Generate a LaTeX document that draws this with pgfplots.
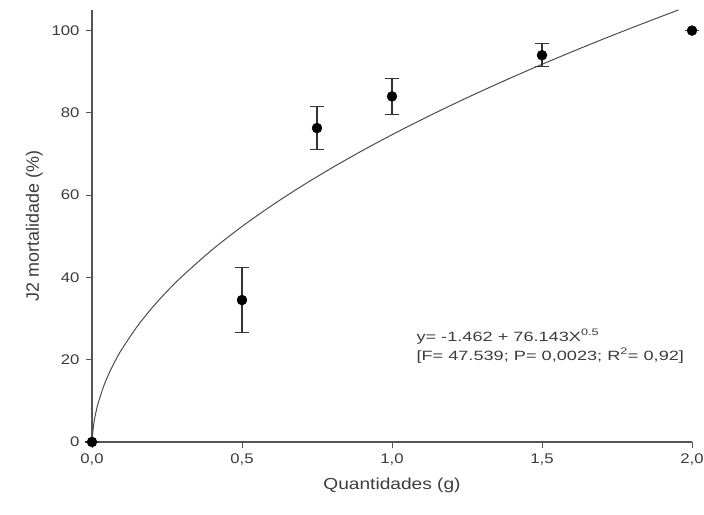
\documentclass[border=0pt]{standalone}
\usepackage{fontspec}
\setmainfont{Liberation Sans}[FakeStretch=1.2]
\newfontfamily\ylabfont{Liberation Sans}
\newfontfamily\annfont{Liberation Sans}[FakeStretch=1.35]
\usepackage{pgfplots}
\pgfplotsset{compat=1.18}

\definecolor{txt}{HTML}{3C3C3C}
\definecolor{axc}{HTML}{555555}

\begin{document}
\begin{tikzpicture}
\path[use as bounding box] (-92bp,-73bp) rectangle (612bp,442bp);
\begin{axis}[
  scale only axis,
  width=600bp, height=432bp,
  xmin=0, xmax=2.0, ymin=0, ymax=105,
  clip=false,
  axis x line*=bottom, axis y line*=left,
  axis line style={axc, line width=1.1pt},
  tick style={axc, line width=1pt},
  tick align=outside, major tick length=6bp,
  xtick={0,0.5,1,1.5,2}, ytick={0,20,40,60,80,100},
  /pgf/number format/assume math mode=true,
  xticklabel style={yshift=-2bp,
    /pgf/number format/fixed, /pgf/number format/fixed zerofill,
    /pgf/number format/precision=1, /pgf/number format/use comma},
  ticklabel style={font=\fontsize{14}{16}\selectfont, text=txt},
  yticklabel style={xshift=-3bp},
  xlabel={Quantidades (g)},
  ylabel={J2 mortalidade (\%)},
  xlabel style={font=\fontsize{16}{18}\selectfont, text=txt, yshift=-6bp},
  ylabel style={font=\ylabfont\fontsize{18}{20}\selectfont, text=txt, yshift=2bp},
]
% fitted curve y = -1.462 + 76.143 x^0.5
\addplot[no marks, color=black!70, line width=1pt, smooth] coordinates {
  (0.0004,0.061) (0.001,0.946) (0.005,3.922) (0.01,6.152) (0.02,9.306)
  (0.04,13.767) (0.06,17.189) (0.08,20.074) (0.1,22.617) (0.15,28.028)
  (0.2,32.590) (0.25,36.610) (0.3,40.243) (0.4,46.695) (0.5,52.380)
  (0.6,57.518) (0.7,62.244) (0.8,66.643) (0.9,70.774) (1.0,74.681)
  (1.1,78.397) (1.2,81.948) (1.3,85.354) (1.4,88.632) (1.5,91.794)
  (1.6,94.852) (1.7,97.816) (1.8,100.694) (1.9,103.494) (1.955,105.0)
};
% observed means with error bars
\addplot[only marks, mark=*, mark size=5bp, color=black,
  error bars/.cd, y dir=both, y explicit,
  error bar style={line width=1.1pt, color=black!80},
  error mark options={rotate=90, mark size=7bp, line width=1.1pt, color=black!80}]
  coordinates {
  (0,0) +- (0,0)
  (0.5,34.5) +- (0,7.9)
  (0.75,76.3) +- (0,5.2)
  (1.0,84.0) +- (0,4.3)
  (1.5,94.0) +- (0,2.8)
  (2.0,100.0) +- (0,0)
};
\node[anchor=west, align=left, text=txt, font=\annfont\fontsize{13.5}{19}\selectfont]
  at (axis cs:1.07,23.3)
  {y= -1.462 + 76.143X\textsuperscript{0.5}\\{}[F= 47.539; P= 0,0023; R\textsuperscript{2}= 0,92]};
\end{axis}
\end{tikzpicture}
\end{document}
